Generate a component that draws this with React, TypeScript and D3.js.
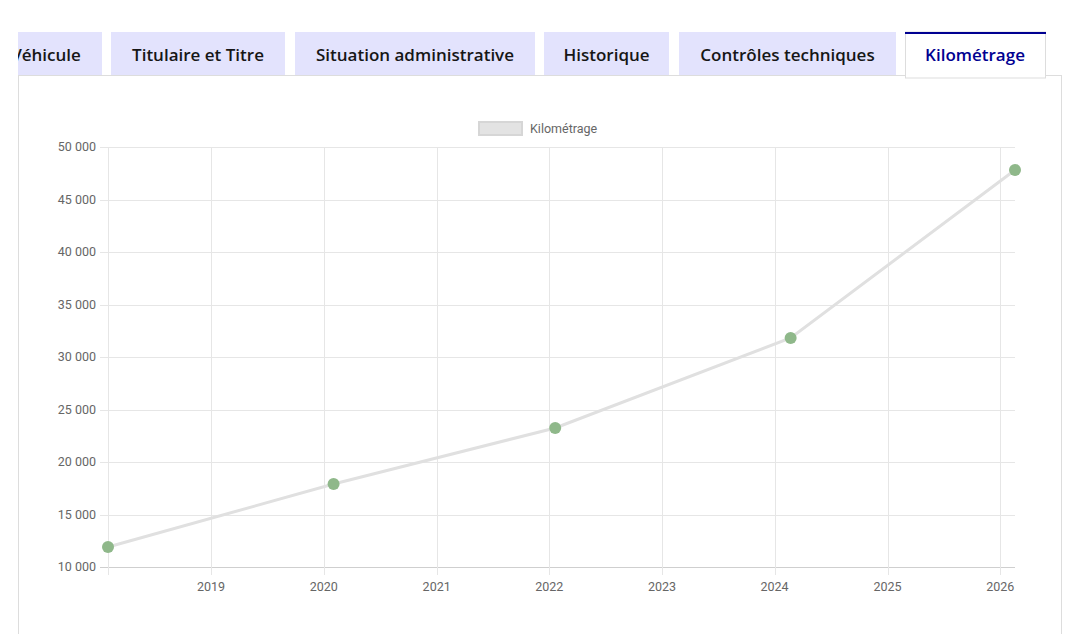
import React, { useEffect, useRef } from "react";
import * as d3 from "d3";

// onglets
const tabLabels = ["Véhicule", "Titulaire et Titre", "Situation administrative", "Historique", "Contrôles techniques", "Kilométrage"];
const tabLefts = [-10, 111, 295, 544, 679, 905];
const tabRights = [102, 285, 535, 669, 896, 1045];

// relevés kilométriques
const readingDates = ["2018-02-01", "2020-02-02", "2022-01-20", "2024-02-22", "2026-02-18"];
const readingKm = [11900, 17900, 23240, 31810, 47810];

const seriesLabel = "Kilométrage";
const yTicks = [10000, 15000, 20000, 25000, 30000, 35000, 40000, 45000, 50000];

const width = 1080;
const height = 634;
const plot = { left: 108, right: 1015, top: 147, bottom: 567 };

const App: React.FC = () => {
  const svgRef = useRef<SVGSVGElement | null>(null);

  useEffect(() => {
    if (!svgRef.current) return;
    const svg = d3.select(svgRef.current);
    svg.selectAll("*").remove();

    // --- tabs & panel ---
    svg
      .append("rect")
      .attr("x", 18.5)
      .attr("y", 75.5)
      .attr("width", 1043)
      .attr("height", 600)
      .attr("fill", "#fff")
      .attr("stroke", "#dddddd");

    const clip = svg.append("clipPath").attr("id", "tabclip");
    clip.append("rect").attr("x", 18).attr("y", 0).attr("width", 1062).attr("height", 80);

    const tabs = svg.append("g").attr("clip-path", "url(#tabclip)");
    tabLabels.forEach((label, i) => {
      const active = i === tabLabels.length - 1;
      const x0 = tabLefts[i];
      const x1 = tabRights[i];
      if (active) {
        tabs
          .append("rect")
          .attr("x", x0 + 0.5)
          .attr("y", 32)
          .attr("width", x1 - x0)
          .attr("height", 46)
          .attr("fill", "#fff")
          .attr("stroke", "#dddddd");
        tabs
          .append("rect")
          .attr("x", x0)
          .attr("y", 32)
          .attr("width", x1 - x0 + 1)
          .attr("height", 2)
          .attr("fill", "#000091");
      } else {
        tabs
          .append("rect")
          .attr("x", x0)
          .attr("y", 32)
          .attr("width", x1 - x0)
          .attr("height", 43)
          .attr("fill", "#e3e3fd");
      }
      tabs
        .append("text")
        .attr("x", (x0 + x1) / 2)
        .attr("y", 61)
        .attr("text-anchor", "middle")
        .attr("font-family", "'Open Sans', sans-serif")
        .attr("font-weight", 600)
        .attr("font-size", 17)
        .attr("fill", active ? "#000091" : "#161616")
        .text(label);
    });

    // --- chart ---
    const parse = d3.timeParse("%Y-%m-%d");
    const data = readingDates.map((d, i) => ({ date: parse(d) as Date, km: readingKm[i] }));

    const x = d3
      .scaleTime()
      .domain(d3.extent(data, (d) => d.date) as [Date, Date])
      .range([plot.left, plot.right]);
    const y = d3.scaleLinear().domain([10000, 50000]).range([plot.bottom, plot.top]);

    const fr = d3.formatLocale({ decimal: ",", thousands: " ", grouping: [3], currency: ["", " €"] });
    const fmt = fr.format(",d");

    const chart = svg.append("g").attr("font-family", "Roboto, sans-serif").attr("font-size", 12.5);

    const xTicks = x.ticks(d3.timeYear.every(1) as d3.TimeInterval);

    // grid
    chart
      .selectAll(".ygrid")
      .data(yTicks)
      .enter()
      .append("line")
      .attr("x1", plot.left - 8)
      .attr("x2", plot.right)
      .attr("y1", (d) => Math.round(y(d)) + 0.5)
      .attr("y2", (d) => Math.round(y(d)) + 0.5)
      .attr("stroke", (d) => (d === 10000 ? "#cfcfcf" : "#e6e6e6"));

    chart
      .selectAll(".xgrid")
      .data(xTicks)
      .enter()
      .append("line")
      .attr("x1", (d) => Math.round(x(d)) + 0.5)
      .attr("x2", (d) => Math.round(x(d)) + 0.5)
      .attr("y1", plot.top)
      .attr("y2", plot.bottom + 8)
      .attr("stroke", "#e6e6e6");

    chart
      .append("line")
      .attr("x1", plot.left + 0.5)
      .attr("x2", plot.left + 0.5)
      .attr("y1", plot.top)
      .attr("y2", plot.bottom + 8)
      .attr("stroke", "#e6e6e6");

    // tick labels
    chart
      .selectAll(".ylab")
      .data(yTicks)
      .enter()
      .append("text")
      .attr("x", plot.left - 12)
      .attr("y", (d) => y(d))
      .attr("dy", "0.35em")
      .attr("text-anchor", "end")
      .attr("fill", "#666")
      .text((d) => fmt(d));

    chart
      .selectAll(".xlab")
      .data(xTicks)
      .enter()
      .append("text")
      .attr("x", (d) => x(d))
      .attr("y", plot.bottom + 24)
      .attr("text-anchor", "middle")
      .attr("fill", "#666")
      .text((d) => d3.timeFormat("%Y")(d));

    // line
    const line = d3
      .line<{ date: Date; km: number }>()
      .x((d) => x(d.date))
      .y((d) => y(d.km));
    chart
      .append("path")
      .datum(data)
      .attr("d", line)
      .attr("fill", "none")
      .attr("stroke", "#e0e0e0")
      .attr("stroke-width", 3);

    chart
      .selectAll(".pt")
      .data(data)
      .enter()
      .append("circle")
      .attr("cx", (d) => x(d.date))
      .attr("cy", (d) => y(d.km))
      .attr("r", 6)
      .attr("fill", "#8fb88a");

    // legend
    chart
      .append("rect")
      .attr("x", 479)
      .attr("y", 122)
      .attr("width", 43)
      .attr("height", 13)
      .attr("fill", "#e3e3e3")
      .attr("stroke", "#d6d6d6")
      .attr("stroke-width", 2);
    chart
      .append("text")
      .attr("x", 530)
      .attr("y", 129)
      .attr("dy", "0.35em")
      .attr("fill", "#666")
      .text(seriesLabel);
  }, []);

  return (
    <svg
      ref={svgRef}
      width={width}
      height={height}
      style={{ position: "absolute", left: 0, top: 0, display: "block", background: "#fff" }}
    />
  );
};

export default App;
